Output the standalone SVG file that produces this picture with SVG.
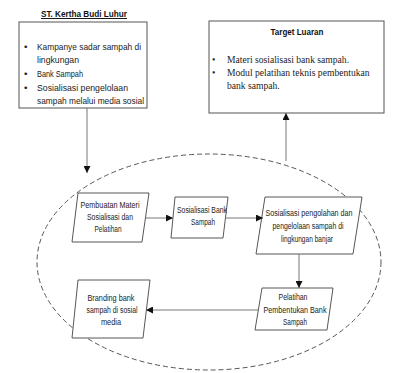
<svg xmlns="http://www.w3.org/2000/svg" width="409" height="373" viewBox="0 0 409 373">
<style>
.box{fill:#fff;stroke:#555;stroke-width:1}
.par{fill:#fff;stroke:#444;stroke-width:0.9}
.conn{stroke:#777;stroke-width:1;fill:none}
.t{font-family:"Liberation Sans",Arial,sans-serif;font-size:9.8px;fill:#222}
.s{font-family:"Liberation Sans",Arial,sans-serif;font-size:8.4px;fill:#222;text-anchor:middle}
.serif{font-family:"Liberation Serif","Times New Roman",serif;font-size:9.6px;fill:#222}
.b{font-family:"Liberation Sans",Arial,sans-serif;font-size:9.6px;font-weight:bold;fill:#111;text-anchor:middle}
</style>
<defs>
<marker id="ah" viewBox="0 0 10 10" refX="10" refY="5" markerWidth="7" markerHeight="7" markerUnits="userSpaceOnUse" orient="auto">
<path d="M0,0 L10,5 L0,10 z" fill="#111"/>
</marker>
</defs>
<ellipse cx="209" cy="262" rx="172" ry="108" fill="none" stroke="#444" stroke-width="0.9" stroke-dasharray="5,3"/>
<g id="source">
<text class="b" x="84" y="17" text-decoration="underline" textLength="86" lengthAdjust="spacingAndGlyphs">ST. Kertha Budi Luhur</text>
<rect class="box" x="19" y="22" width="128" height="86"/>
<text class="t" x="24" y="50">•</text><text class="t" x="37" y="50" textLength="104" lengthAdjust="spacingAndGlyphs">Kampanye sadar sampah di</text>
<text class="t" x="37" y="63" textLength="42" lengthAdjust="spacingAndGlyphs">lingkungan</text>
<text class="t" x="24" y="77">•</text><text class="t" x="37" y="77" textLength="46" lengthAdjust="spacingAndGlyphs">Bank Sampah</text>
<text class="t" x="24" y="91">•</text><text class="t" x="37" y="91" textLength="91" lengthAdjust="spacingAndGlyphs">Sosialisasi pengelolaan</text>
<text class="t" x="37" y="104" textLength="107" lengthAdjust="spacingAndGlyphs">sampah melalui media sosial</text>
</g>
<g id="target">
<rect class="box" x="209" y="21" width="175" height="92"/>
<text class="b" x="297" y="35" textLength="53" lengthAdjust="spacingAndGlyphs">Target Luaran</text>
<text class="serif" x="212" y="63">•</text><text class="serif" x="227" y="63">Materi sosialisasi bank sampah.</text>
<text class="serif" x="212" y="76">•</text><text class="serif" x="227" y="76">Modul pelatihan teknis pembentukan</text>
<text class="serif" x="227" y="89">bank sampah.</text>
</g>
<g id="p1">
<polygon class="par" points="78,193 149,193 142,242 72,242"/>
<text class="s" x="110" y="208" textLength="59" lengthAdjust="spacingAndGlyphs">Pembuatan Materi</text>
<text class="s" x="110" y="220" textLength="46" lengthAdjust="spacingAndGlyphs">Sosialisasi dan</text>
<text class="s" x="108" y="232" textLength="27" lengthAdjust="spacingAndGlyphs">Pelatihan</text>
</g>
<g id="p2">
<polygon class="par" points="175,197 228,197 223,238 171,238"/>
<text class="s" x="202" y="213" textLength="50" lengthAdjust="spacingAndGlyphs">Sosialisasi Bank</text>
<text class="s" x="203" y="225" textLength="24" lengthAdjust="spacingAndGlyphs">Sampah</text>
</g>
<g id="p3">
<polygon class="par" points="265,197 362,197 353,254 256,254"/>
<text class="s" x="309" y="216" textLength="87" lengthAdjust="spacingAndGlyphs">Sosialisasi pengolahan dan</text>
<text class="s" x="308" y="229" textLength="71" lengthAdjust="spacingAndGlyphs">pengelolaan sampah di</text>
<text class="s" x="307" y="242" textLength="52" lengthAdjust="spacingAndGlyphs">lingkungan banjar</text>
</g>
<g id="p4">
<polygon class="par" points="262,288 333,288 327,330 255,330"/>
<text class="s" x="293" y="300" textLength="29" lengthAdjust="spacingAndGlyphs">Pelatihan</text>
<text class="s" x="295" y="313" textLength="63" lengthAdjust="spacingAndGlyphs">Pembentukan Bank</text>
<text class="s" x="295" y="325" textLength="24" lengthAdjust="spacingAndGlyphs">Sampah</text>
</g>
<g id="p5">
<polygon class="par" points="78,280 150,280 143,338 72,338"/>
<text class="s" x="111" y="301" textLength="47" lengthAdjust="spacingAndGlyphs">Branding bank</text>
<text class="s" x="112" y="313" textLength="51" lengthAdjust="spacingAndGlyphs">sampah di sosial</text>
<text class="s" x="111" y="325" textLength="20" lengthAdjust="spacingAndGlyphs">media</text>
</g>
<g id="connectors">
<line class="conn" x1="87" y1="108" x2="87" y2="173" marker-end="url(#ah)"/>
<line class="conn" x1="286" y1="161" x2="286" y2="113" marker-end="url(#ah)"/>
<line class="conn" x1="146" y1="218" x2="173" y2="218" marker-end="url(#ah)"/>
<line class="conn" x1="225" y1="218" x2="263" y2="218" marker-end="url(#ah)"/>
<line class="conn" x1="299" y1="254" x2="299" y2="288" marker-end="url(#ah)"/>
<line class="conn" x1="258" y1="310" x2="146" y2="310" marker-end="url(#ah)"/>
</g>
</svg>
